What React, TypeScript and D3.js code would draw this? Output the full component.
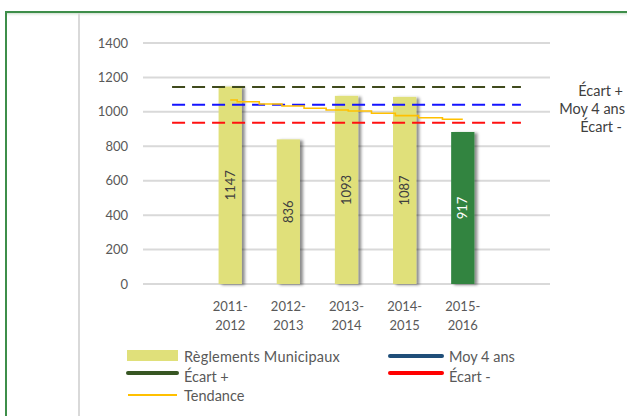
import React from "react";
import * as d3 from "d3";

const categories = ["", "2011-2012", "2012-2013", "2013-2014", "2014-2015", "2015-2016", " "];
const barLabels = [1147, 836, 1093, 1087, 917];
const barHeights = [1147, 840, 1093, 1087, 883];
const yTicks = [0, 200, 400, 600, 800, 1000, 1200, 1400];
const ecartPlus = 1145;
const moy4 = 1041;
const ecartMoins = 937;
// Tendance: step positions (in years from first bar) and values
const trendPos = [0, 0.12, 0.5, 0.89, 1.27, 1.65, 2.03, 2.43, 2.84, 3.24, 3.65, 4.0];
const trendVals = [1069, 1059, 1046, 1034, 1021, 1011, 1005, 992, 978, 966, 957, 957];

const W = 627, H = 416;
const FONT = "Lato, 'Open Sans', sans-serif";
const TXT = "#595959";

export default function App() {
  const x = d3.scaleBand<string>().domain(categories).range([143, 550]).padding(0);
  const y = d3.scaleLinear().domain([0, 1400]).range([284, 43]);
  const bw = x.bandwidth();
  const barW = bw * 0.4;
  const cx = (c: string) => (x(c) as number) + bw / 2;
  const years = categories.slice(1, 6);
  const tx = d3.scaleLinear().domain([0, 4]).range([cx(years[0]), cx(years[4])]);
  const trendLine = d3.line<number>()
    .x((_, i) => tx(trendPos[i]))
    .y((d) => y(d))
    .curve(d3.curveStepAfter)(trendVals) as string;
  const x0 = cx(categories[0]);
  const x1 = cx(categories[6]);

  const refs = [
    { v: ecartPlus, c: "#3f4a1c", label: "Écart +", rx: 623 },
    { v: moy4, c: "#1414ff", label: "Moy 4 ans", rx: 625 },
    { v: ecartMoins, c: "#ff1010", label: "Écart -", rx: 622 },
  ];

  return (
    <svg width={W} height={H} style={{ position: "absolute", left: 0, top: 0, background: "#fff" }} fontFamily={FONT}>
      <defs>
        <filter id="sh" x="-30%" y="-10%" width="180%" height="130%">
          <feDropShadow dx="3" dy="1" stdDeviation="1.5" floodColor="#000" floodOpacity="0.45" />
        </filter>
        <linearGradient id="topsh" x1="0" y1="0" x2="0" y2="1">
          <stop offset="0" stopColor="#cfe0cf" />
          <stop offset="1" stopColor="#fff" stopOpacity="0" />
        </linearGradient>
      </defs>
      {/* frame */}
      <rect x={6} y={13} width={W} height={4} fill="url(#topsh)" />
      <line x1={6} x2={W} y1={12} y2={12} stroke="#3e8e4a" strokeWidth={2} />
      <line x1={6} x2={6} y1={11} y2={H} stroke="#3e8e4a" strokeWidth={2} />
      <line x1={79} x2={79} y1={13} y2={H} stroke="#d9d9d9" strokeWidth={2} />

      {/* grid + y ticks */}
      {yTicks.map((t) => (
        <g key={t}>
          <line x1={143} x2={550} y1={y(t)} y2={y(t)} stroke="#d9d9d9" strokeWidth={2} />
          <text x={128} y={y(t)} dy="0.35em" textAnchor="end" fontSize={13} fill={TXT}>{t}</text>
        </g>
      ))}

      {/* bars */}
      {years.map((c, i) => {
        const last = i === years.length - 1;
        const bx = cx(c) - barW / 2;
        const by = y(barHeights[i]);
        const bh = y(0) - by;
        return (
          <g key={c}>
            <rect x={bx} y={by} width={barW} height={bh} fill={last ? "#31843f" : "#e0e07a"} filter="url(#sh)" />
            <text
              transform={`translate(${cx(c)},${by + bh / 2}) rotate(-90)`}
              textAnchor="middle" dy="0.35em" fontSize={13}
              fill={last ? "#ffffff" : "#404040"}
            >{barLabels[i]}</text>
          </g>
        );
      })}

      {/* x labels */}
      {years.map((c) => {
        const [a, b] = c.split("-");
        return (
          <text key={c} x={cx(c)} textAnchor="middle" fontSize={13} fill={TXT}>
            <tspan x={cx(c)} y={311}>{a}-</tspan>
            <tspan x={cx(c)} y={330}>{b}</tspan>
          </text>
        );
      })}

      {/* reference lines */}
      {refs.map((r) => (
        <line key={r.label} x1={x0} x2={x1} y1={y(r.v)} y2={y(r.v)} stroke={r.c} strokeWidth={2} strokeDasharray="13,7" />
      ))}
      <path d={trendLine} fill="none" stroke="#ffc000" strokeWidth={1.6} />

      {/* right labels */}
      {refs.map((r, i) => (
        <text key={r.label} x={r.rx} y={96 + i * 18} textAnchor="end" fontSize={14.5} fill="#404040">{r.label}</text>
      ))}

      {/* legend */}
      <rect x={127} y={350} width={51} height={11} fill="#e0e07a" />
      <text x={184} y={362} fontSize={14.5} fill={TXT} letterSpacing={0.2}>Règlements Municipaux</text>
      <line x1={128} x2={177} y1={373} y2={373} stroke="#375623" strokeWidth={4} strokeLinecap="round" />
      <text x={184} y={382} fontSize={14.5} fill={TXT}>Écart +</text>
      <line x1={128} x2={177} y1={395} y2={395} stroke="#ffc000" strokeWidth={2} />
      <text x={184} y={401} fontSize={14.5} fill={TXT}>Tendance</text>
      <line x1={390} x2={442} y1={356} y2={356} stroke="#1f4e79" strokeWidth={4} strokeLinecap="round" />
      <text x={449} y={362} fontSize={14.5} fill={TXT}>Moy 4 ans</text>
      <line x1={390} x2={442} y1={373} y2={373} stroke="#ff0000" strokeWidth={4} strokeLinecap="round" />
      <text x={449} y={382} fontSize={14.5} fill={TXT}>Écart -</text>
    </svg>
  );
}
